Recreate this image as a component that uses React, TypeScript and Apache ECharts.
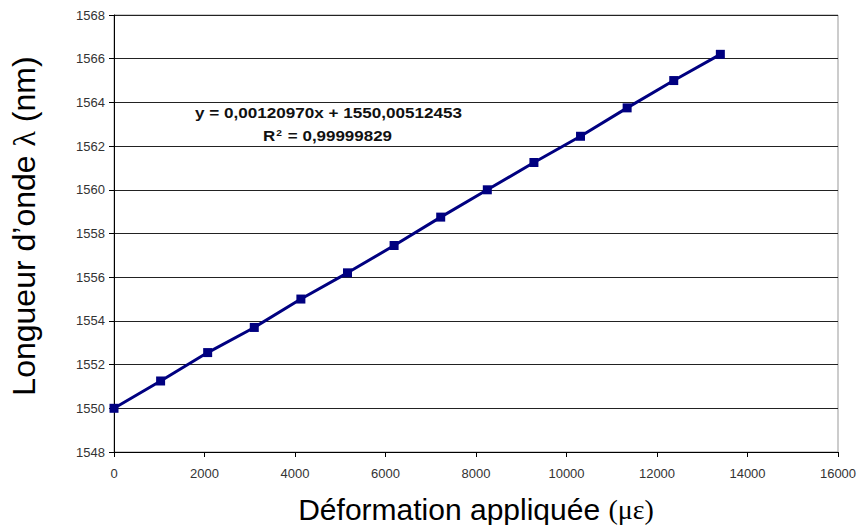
import React, { useEffect, useRef } from "react";
import * as echarts from "echarts";

const strain = [0, 1030, 2070, 3100, 4130, 5160, 6190, 7220, 8250, 9280, 10310, 11340, 12370, 13400];
const wavelength = [1550.0, 1551.25, 1552.55, 1553.7, 1555.0, 1556.2, 1557.45, 1558.75, 1560.0, 1561.25, 1562.45, 1563.75, 1565.0, 1566.2];
const equationText = "y = 0,00120970x + 1550,00512453";
const r2Value = "0,99999829";
const yTitle = "Longueur d’onde {s|λ} (nm)";
const xTitle = "Déformation appliquée {s|(με)}";

export default function App() {
  const ref = useRef<HTMLDivElement>(null);
  useEffect(() => {
    const chart = echarts.init(ref.current!, null, { renderer: "svg" });
    const font = "Liberation Sans, Arial, sans-serif";
    const serif = "Liberation Serif, Times New Roman, serif";
    chart.setOption({
      animation: false,
      backgroundColor: "#ffffff",
      grid: {
        left: 114, right: 23, top: 15, bottom: 73,
        show: true, borderColor: "#999999", borderWidth: 1,
        containLabel: false, outerBoundsMode: "none",
      },
      xAxis: {
        type: "value",
        min: 0,
        max: 16000,
        interval: 2000,
        name: xTitle,
        nameLocation: "middle",
        nameGap: 42,
        nameTextStyle: {
          fontSize: 30, color: "#000", fontFamily: font,
          rich: { s: { fontSize: 28, fontFamily: serif, color: "#000" } },
        },
        axisLine: { show: true, lineStyle: { color: "#000", width: 1 } },
        axisTick: { show: true, inside: false, length: 5, lineStyle: { color: "#000" } },
        axisLabel: { fontSize: 13, color: "#333", fontFamily: font, margin: 15, formatter: (v: number) => String(v) },
        splitLine: { show: false },
      },
      yAxis: {
        type: "value",
        min: 1548,
        max: 1568,
        interval: 2,
        axisLine: { show: true, lineStyle: { color: "#000", width: 1 } },
        axisTick: { show: true, inside: false, length: 5, lineStyle: { color: "#000" } },
        axisLabel: { fontSize: 13, color: "#333", fontFamily: font, margin: 9, formatter: (v: number) => String(v) },
        splitLine: { show: true, lineStyle: { color: "#222", width: 1 } },
      },
      series: [
        {
          type: "line",
          data: strain.map((x, i) => [x, wavelength[i]]),
          symbol: "rect",
          symbolSize: 9,
          itemStyle: { color: "#000080" },
          lineStyle: { color: "#000080", width: 3 },
          z: 5,
        },
      ],
      graphic: [
        {
          type: "text",
          x: 24,
          y: 226,
          rotation: Math.PI / 2,
          style: {
            text: yTitle,
            fontSize: 32, fontFamily: font, fill: "#000",
            align: "center", verticalAlign: "middle",
            rich: { s: { fontSize: 32, fontFamily: serif, fill: "#000" } },
          },
        },
        {
          type: "text",
          x: 195,
          y: 105,
          scaleX: 1.14,
          style: { text: equationText, fontSize: 15, fontWeight: "bold", fontFamily: font, fill: "#111" },
        },
        {
          type: "text",
          x: 263,
          y: 128,
          scaleX: 1.13,
          style: {
            text: "R{sup|2} = " + r2Value,
            fontSize: 15, fontWeight: "bold", fontFamily: font, fill: "#111",
            rich: {
              sup: { fontSize: 9, fontWeight: "bold", fontFamily: font, verticalAlign: "top", padding: [0, 1, 7, 1] },
            },
          },
        },
      ],
    });
    return () => chart.dispose();
  }, []);
  return <div ref={ref} style={{ position: "absolute", left: 0, top: 0, width: 861, height: 525 }} />;
}
